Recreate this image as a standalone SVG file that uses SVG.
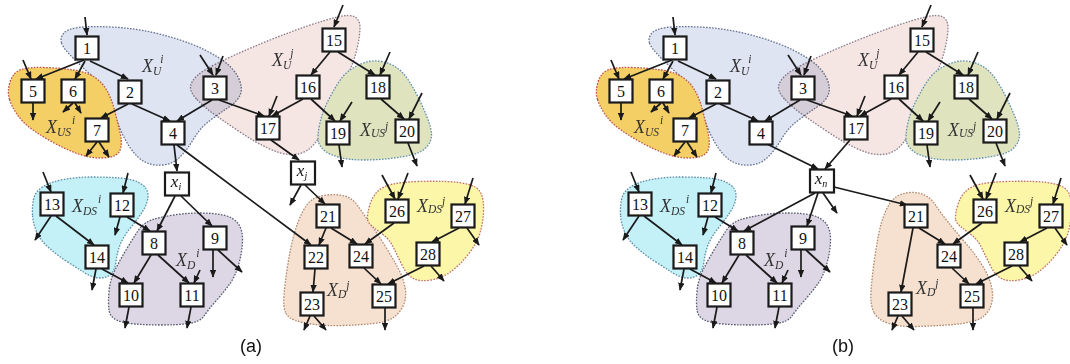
<svg xmlns="http://www.w3.org/2000/svg" xmlns:xlink="http://www.w3.org/1999/xlink" width="1070" height="364" viewBox="0 0 1070 364">
  <style>
    .blob { stroke-width: 1.3; stroke-dasharray: 1.6 1.4; }
    .bU { fill: #dee4f2; stroke: #66738f; }
    .bUj { fill: #f5e6e3; stroke: #8b7d8c; mix-blend-mode: multiply; }
    .bUSi { fill: #f3cf66; stroke: #c0504d; }
    .bUSj { fill: #dfe4bf; stroke: #5f8fae; }
    .bDSi { fill: #c4f0f7; stroke: #5b8fa8; }
    .bDi { fill: #ddd6e5; stroke: #555a6e; }
    .bDj { fill: #f6e0d0; stroke: #b08a70; }
    .bDSj { fill: #fbf6a8; stroke: #c0706a; }
    .e { fill: none; stroke: #1a1a1a; stroke-width: 1.7; marker-end: url(#ah); }
    .n rect { fill: #fff; stroke: #1a1a1a; stroke-width: 2.2; }
    .n text { font-family: "Liberation Serif", serif; font-size: 16px; text-anchor: middle; fill: #111; }
    .n text.v { font-style: italic; font-size: 17px; }
    .n tspan.s { font-size: 10px; }
    .lab { font-family: "Liberation Serif", serif; font-style: italic; font-size: 18px; fill: #333; }
    .lab tspan { font-size: 11.5px; }
    .cap { font-family: "Liberation Sans", sans-serif; font-size: 18px; fill: #111; text-anchor: middle; }
  </style>
  <defs>
    <marker id="ah" viewBox="0 0 10 8" refX="9" refY="4" markerWidth="8" markerHeight="6.5" markerUnits="userSpaceOnUse" orient="auto">
      <path d="M0,0 L10,4 L0,8 z" fill="#1a1a1a"/>
    </marker>
    <!-- cluster outlines shared by both panels -->
    <path id="p-Ui" d="M61.5,43 Q60,38 63.5,33.5 Q67,29 78.5,27.5 Q90,26 111.5,27 Q133,28 153,32.5 Q173,37 190,43.5 Q207,50 220,58.5 Q233,67 238,77 Q243,87 240.5,94 Q238,101 229,107 Q220,113 210,120.5 Q200,128 193.5,139 Q187,150 180,157 Q173,164 163,165 Q153,166 145,162 Q137,158 130,147.5 Q123,137 118,123.5 Q113,110 106.5,96.5 Q100,83 91.5,75.5 Q83,68 73,58 Q63,48 61.5,43 Z"/>
    <path id="p-Uj" d="M196.5,99 Q188,90 191.5,83 Q195,76 205,70 Q215,64 232.5,56 Q250,48 270,40 Q290,32 307.5,26 Q325,20 337.5,17 Q350,14 355,17 Q360,20 360,27.5 Q360,35 357.5,46.5 Q355,58 350,70 Q345,82 340,93.5 Q335,105 330,116 Q325,127 319.5,136.5 Q314,146 307,150.5 Q300,155 290,154.5 Q280,154 267.5,148 Q255,142 241.5,133 Q228,124 216.5,116 Q205,108 196.5,99 Z"/>
    <path id="p-USi" d="M9.5,99.5 Q7,92 10,82 Q13,72 21.5,69.5 Q30,67 45,67.5 Q60,68 73.5,70 Q87,72 95,77.5 Q103,83 107.5,91.5 Q112,100 114.5,110 Q117,120 119.5,130 Q122,140 121,146.5 Q120,153 115,155.5 Q110,158 100,158 Q90,158 78.5,154 Q67,150 55,143.5 Q43,137 33,130 Q23,123 17.5,115 Q12,107 9.5,99.5 Z"/>
    <path id="p-USj" d="M318.5,142 Q317,137 319.5,125 Q322,113 327,103 Q332,93 337.5,84 Q343,75 350,70 Q357,65 365,62.5 Q373,60 381.5,61.5 Q390,63 396.5,67.5 Q403,72 408,79.5 Q413,87 418,97 Q423,107 427,117 Q431,127 431.5,133.5 Q432,140 427.5,146 Q423,152 413,154.5 Q403,157 390,158.5 Q377,160 363.5,160 Q350,160 340,157.5 Q330,155 325,151 Q320,147 318.5,142 Z"/>
    <path id="p-DSi" d="M32.5,215 Q32,207 33.5,199.5 Q35,192 42.5,187 Q50,182 63.5,179.5 Q77,177 92,177 Q107,177 120,178 Q133,179 140.5,183.5 Q148,188 148,195.5 Q148,203 142.5,211.5 Q137,220 130,228.5 Q123,237 120,245 Q117,253 116,261.5 Q115,270 111,274 Q107,278 100,278 Q93,278 85,273 Q77,268 67,261.5 Q57,255 48.5,247.5 Q40,240 36.5,231.5 Q33,223 32.5,215 Z"/>
    <path id="p-Di" d="M109,310 Q108,303 109,291.5 Q110,280 115,270 Q120,260 126,250 Q132,240 137.5,231.5 Q143,223 151.5,220 Q160,217 173.5,215 Q187,213 200,213 Q213,213 223,215 Q233,217 238,223.5 Q243,230 242.5,241.5 Q242,253 238.5,265 Q235,277 229,285 Q223,293 215.5,301.5 Q208,310 204,316 Q200,322 188.5,323.5 Q177,325 162,325 Q147,325 135,324 Q123,323 116.5,320 Q110,317 109,310 Z"/>
    <path id="p-DSj" d="M367.5,219 Q367,215 369.5,206 Q372,197 377.5,191.5 Q383,186 393,184 Q403,182 418,181.5 Q433,181 446.5,181.5 Q460,182 469,184.5 Q478,187 481,193.5 Q484,200 483.5,211.5 Q483,223 480,233 Q477,243 468.5,254 Q460,265 451,271.5 Q442,278 431,280 Q420,282 413.5,278.5 Q407,275 402.5,266 Q398,257 394,248.5 Q390,240 383.5,235 Q377,230 372.5,226.5 Q368,223 367.5,219 Z"/>
  </defs>

  <rect width="1070" height="364" fill="#fff"/>

  <!-- ===================== panel (a) ===================== -->
  <g id="panel-a">
    <g id="a-clusters">
      <use xlink:href="#p-Ui" class="blob bU"/>
      <use xlink:href="#p-Uj" class="blob bUj"/>
      <use xlink:href="#p-USi" class="blob bUSi"/>
      <use xlink:href="#p-USj" class="blob bUSj"/>
      <use xlink:href="#p-DSi" class="blob bDSi"/>
      <use xlink:href="#p-Di" class="blob bDi"/>
      <path class="blob bDj" d="M285.5,312.5 Q283,307 284,295 Q285,283 287.5,266.5 Q290,250 293.5,236.5 Q297,223 302,213 Q307,203 312.5,199.5 Q318,196 327.5,195 Q337,194 344.5,196 Q352,198 357.5,205.5 Q363,213 370,223 Q377,233 384.5,245 Q392,257 397.5,267 Q403,277 405,287 Q407,297 403.5,305 Q400,313 393.5,317.5 Q387,322 373.5,323.5 Q360,325 343.5,325.5 Q327,326 315,324.5 Q303,323 295.5,320.5 Q288,318 285.5,312.5 Z"/>
      <use xlink:href="#p-DSj" class="blob bDSj"/>
    </g>

    <g id="a-connectors">
      <path class="e" d="M85,17 L87,35"/>
      <path class="e" d="M84,60 L36,79"/>
      <path class="e" d="M85,61 L75,79"/>
      <path class="e" d="M90,61 L128,79"/>
      <path class="e" d="M23,60 L31,79"/>
      <path class="e" d="M33,103 L33,120"/>
      <path class="e" d="M73,103 L63,112"/>
      <path class="e" d="M75,103 L81,113"/>
      <path class="e" d="M128,104 L101,118"/>
      <path class="e" d="M132,104 L170,121"/>
      <path class="e" d="M200,55 L213,75"/>
      <path class="e" d="M223,56 L216,75"/>
      <path class="e" d="M212,100 L177,121"/>
      <path class="e" d="M219,100 L264,116"/>
      <path class="e" d="M97,142 L86,156"/>
      <path class="e" d="M99,142 L109,157"/>
      <path class="e" d="M174,145 L177,171"/>
      <path class="e" d="M177,145 L311,245"/>
      <path class="e" d="M343,5 L334,27"/>
      <path class="e" d="M330,52 L311,75"/>
      <path class="e" d="M338,52 L375,75"/>
      <path class="e" d="M303,99 L272,116"/>
      <path class="e" d="M311,99 L335,121"/>
      <path class="e" d="M277,96 L269,116"/>
      <path class="e" d="M352,102 L340,121"/>
      <path class="e" d="M390,52 L380,75"/>
      <path class="e" d="M381,99 L404,119"/>
      <path class="e" d="M422,93 L409,119"/>
      <path class="e" d="M339,145 L342,167"/>
      <path class="e" d="M408,143 L417,166"/>
      <path class="e" d="M271,140 L299,160"/>
      <path class="e" d="M305,185 L325,204"/>
      <path class="e" d="M301,185 L290,205"/>
      <path class="e" d="M326,228 L319,245"/>
      <path class="e" d="M331,228 L357,244"/>
      <path class="e" d="M394,223 L365,244"/>
      <path class="e" d="M382,175 L395,199"/>
      <path class="e" d="M408,173 L398,199"/>
      <path class="e" d="M473,178 L465,204"/>
      <path class="e" d="M459,228 L432,242"/>
      <path class="e" d="M467,228 L479,245"/>
      <path class="e" d="M424,266 L388,284"/>
      <path class="e" d="M431,266 L444,281"/>
      <path class="e" d="M364,268 L381,284"/>
      <path class="e" d="M315,269 L313,292"/>
      <path class="e" d="M310,316 L304,330"/>
      <path class="e" d="M314,316 L326,330"/>
      <path class="e" d="M385,308 L385,330"/>
      <path class="e" d="M175,196 L157,231"/>
      <path class="e" d="M181,196 L212,226"/>
      <path class="e" d="M43,172 L51,192"/>
      <path class="e" d="M51,216 L35,240"/>
      <path class="e" d="M56,216 L94,245"/>
      <path class="e" d="M128,173 L123,193"/>
      <path class="e" d="M120,217 L115,235"/>
      <path class="e" d="M127,217 L150,231"/>
      <path class="e" d="M96,269 L92,290"/>
      <path class="e" d="M102,269 L128,283"/>
      <path class="e" d="M151,255 L134,283"/>
      <path class="e" d="M158,255 L189,283"/>
      <path class="e" d="M200,270 L194,283"/>
      <path class="e" d="M213,250 L213,277"/>
      <path class="e" d="M218,250 L242,272"/>
      <path class="e" d="M129,307 L125,328"/>
      <path class="e" d="M191,307 L187,328"/>
    </g>

    <g id="a-n1" class="n" transform="translate(87,48)"><rect x="-11.5" y="-11.5" width="23" height="23"/><text y="5.5">1</text></g>
    <g id="a-n2" class="n" transform="translate(130,92)"><rect x="-11.5" y="-11.5" width="23" height="23"/><text y="5.5">2</text></g>
    <g id="a-n3" class="n" transform="translate(215,88)"><rect x="-11.5" y="-11.5" width="23" height="23"/><text y="5.5">3</text></g>
    <g id="a-n4" class="n" transform="translate(173,133)"><rect x="-11.5" y="-11.5" width="23" height="23"/><text y="5.5">4</text></g>
    <g id="a-n5" class="n" transform="translate(33,91)"><rect x="-11.5" y="-11.5" width="23" height="23"/><text y="5.5">5</text></g>
    <g id="a-n6" class="n" transform="translate(73,91)"><rect x="-11.5" y="-11.5" width="23" height="23"/><text y="5.5">6</text></g>
    <g id="a-n7" class="n" transform="translate(97,130)"><rect x="-11.5" y="-11.5" width="23" height="23"/><text y="5.5">7</text></g>
    <g id="a-n8" class="n" transform="translate(154,243)"><rect x="-11.5" y="-11.5" width="23" height="23"/><text y="5.5">8</text></g>
    <g id="a-n9" class="n" transform="translate(215,238)"><rect x="-11.5" y="-11.5" width="23" height="23"/><text y="5.5">9</text></g>
    <g id="a-n10" class="n" transform="translate(131,295)"><rect x="-11.5" y="-11.5" width="23" height="23"/><text y="5.5">10</text></g>
    <g id="a-n11" class="n" transform="translate(192,295)"><rect x="-11.5" y="-11.5" width="23" height="23"/><text y="5.5">11</text></g>
    <g id="a-n12" class="n" transform="translate(122,205)"><rect x="-11.5" y="-11.5" width="23" height="23"/><text y="5.5">12</text></g>
    <g id="a-n13" class="n" transform="translate(52,204)"><rect x="-11.5" y="-11.5" width="23" height="23"/><text y="5.5">13</text></g>
    <g id="a-n14" class="n" transform="translate(97,257)"><rect x="-11.5" y="-11.5" width="23" height="23"/><text y="5.5">14</text></g>
    <g id="a-n15" class="n" transform="translate(334,40)"><rect x="-11.5" y="-11.5" width="23" height="23"/><text y="5.5">15</text></g>
    <g id="a-n16" class="n" transform="translate(308,87)"><rect x="-11.5" y="-11.5" width="23" height="23"/><text y="5.5">16</text></g>
    <g id="a-n17" class="n" transform="translate(268,128)"><rect x="-11.5" y="-11.5" width="23" height="23"/><text y="5.5">17</text></g>
    <g id="a-n18" class="n" transform="translate(378,87)"><rect x="-11.5" y="-11.5" width="23" height="23"/><text y="5.5">18</text></g>
    <g id="a-n19" class="n" transform="translate(338,133)"><rect x="-11.5" y="-11.5" width="23" height="23"/><text y="5.5">19</text></g>
    <g id="a-n20" class="n" transform="translate(407,131)"><rect x="-11.5" y="-11.5" width="23" height="23"/><text y="5.5">20</text></g>
    <g id="a-n21" class="n" transform="translate(328,216)"><rect x="-11.5" y="-11.5" width="23" height="23"/><text y="5.5">21</text></g>
    <g id="a-n22" class="n" transform="translate(316,257)"><rect x="-11.5" y="-11.5" width="23" height="23"/><text y="5.5">22</text></g>
    <g id="a-n23" class="n" transform="translate(312,304)"><rect x="-11.5" y="-11.5" width="23" height="23"/><text y="5.5">23</text></g>
    <g id="a-n24" class="n" transform="translate(361,256)"><rect x="-11.5" y="-11.5" width="23" height="23"/><text y="5.5">24</text></g>
    <g id="a-n25" class="n" transform="translate(384,296)"><rect x="-11.5" y="-11.5" width="23" height="23"/><text y="5.5">25</text></g>
    <g id="a-n26" class="n" transform="translate(397,211)"><rect x="-11.5" y="-11.5" width="23" height="23"/><text y="5.5">26</text></g>
    <g id="a-n27" class="n" transform="translate(463,216)"><rect x="-11.5" y="-11.5" width="23" height="23"/><text y="5.5">27</text></g>
    <g id="a-n28" class="n" transform="translate(428,254)"><rect x="-11.5" y="-11.5" width="23" height="23"/><text y="5.5">28</text></g>
    <g id="a-xi" class="n" transform="translate(177,184)"><rect x="-12" y="-11.5" width="24" height="23"/><text class="v" x="-1" y="3">x<tspan class="s" dy="3">i</tspan></text></g>
    <g id="a-xj" class="n" transform="translate(303,173)"><rect x="-12" y="-11.5" width="24" height="23"/><text class="v" x="-1" y="3">x<tspan class="s" dy="3">j</tspan></text></g>

    <g id="a-labels">
      <text class="lab" x="142" y="72">X<tspan dy="3">U</tspan><tspan dx="-1" dy="-12">i</tspan></text>
      <text class="lab" x="272" y="66">X<tspan dy="3">U</tspan><tspan dx="-1" dy="-12">j</tspan></text>
      <text class="lab" x="46" y="133">X<tspan dy="3">US</tspan><tspan dx="1" dy="-12">i</tspan></text>
      <text class="lab" x="360" y="136">X<tspan dy="1">US</tspan><tspan dx="0" dy="-7">j</tspan></text>
      <text class="lab" x="72" y="212">X<tspan dy="3">DS</tspan><tspan dx="1" dy="-12">i</tspan></text>
      <text class="lab" x="176" y="266">X<tspan dy="3">D</tspan><tspan dx="1" dy="-12">i</tspan></text>
      <text class="lab" x="327" y="296">X<tspan dy="2">D</tspan><tspan dx="0" dy="-9">j</tspan></text>
      <text class="lab" x="417" y="212">X<tspan dy="1">DS</tspan><tspan dx="0" dy="-8">j</tspan></text>
    </g>
    <text class="cap" x="251" y="352">(a)</text>
  </g>

  <!-- ===================== panel (b) ===================== -->
  <g id="panel-b" transform="translate(588,0)">
    <g id="b-clusters">
      <use xlink:href="#p-Ui" class="blob bU"/>
      <use xlink:href="#p-Uj" class="blob bUj"/>
      <use xlink:href="#p-USi" class="blob bUSi"/>
      <use xlink:href="#p-USj" class="blob bUSj"/>
      <use xlink:href="#p-DSi" class="blob bDSi"/>
      <use xlink:href="#p-Di" class="blob bDi"/>
      <path class="blob bDj" d="M286,312.5 Q282,305 283,291 Q284,277 286,262.5 Q288,248 290.5,235 Q293,222 297.5,211.5 Q302,201 308,197 Q314,193 322,192.5 Q330,192 336.5,195 Q343,198 347.5,205 Q352,212 360,222 Q368,232 378,243.5 Q388,255 395,266.5 Q402,278 404,289 Q406,300 401.5,309 Q397,318 386,321 Q375,324 360,325 Q345,326 328.5,326.5 Q312,327 301,323.5 Q290,320 286,312.5 Z"/>
      <use xlink:href="#p-DSj" class="blob bDSj"/>
    </g>

    <g id="b-connectors">
      <path class="e" d="M85,17 L87,35"/>
      <path class="e" d="M84,60 L36,79"/>
      <path class="e" d="M85,61 L75,79"/>
      <path class="e" d="M90,61 L128,79"/>
      <path class="e" d="M23,60 L31,79"/>
      <path class="e" d="M33,103 L33,120"/>
      <path class="e" d="M73,103 L63,112"/>
      <path class="e" d="M75,103 L81,113"/>
      <path class="e" d="M128,104 L101,118"/>
      <path class="e" d="M132,104 L170,121"/>
      <path class="e" d="M200,55 L213,75"/>
      <path class="e" d="M223,56 L216,75"/>
      <path class="e" d="M212,100 L177,121"/>
      <path class="e" d="M219,100 L264,116"/>
      <path class="e" d="M97,142 L86,156"/>
      <path class="e" d="M99,142 L109,157"/>
      <path class="e" d="M179,144 L230,169"/>
      <path class="e" d="M343,5 L334,27"/>
      <path class="e" d="M330,52 L311,75"/>
      <path class="e" d="M338,52 L375,75"/>
      <path class="e" d="M303,99 L272,116"/>
      <path class="e" d="M311,99 L335,121"/>
      <path class="e" d="M277,96 L269,116"/>
      <path class="e" d="M352,102 L340,121"/>
      <path class="e" d="M390,52 L380,75"/>
      <path class="e" d="M381,99 L404,119"/>
      <path class="e" d="M422,93 L409,119"/>
      <path class="e" d="M339,145 L342,167"/>
      <path class="e" d="M408,143 L417,166"/>
      <path class="e" d="M262,140 L237,169"/>
      <path class="e" d="M227,193 L156,231"/>
      <path class="e" d="M230,193 L219,226"/>
      <path class="e" d="M235,193 L249,213"/>
      <path class="e" d="M246,187 L319,205"/>
      <path class="e" d="M325,228 L313,292"/>
      <path class="e" d="M331,228 L357,244"/>
      <path class="e" d="M394,223 L365,244"/>
      <path class="e" d="M382,175 L395,199"/>
      <path class="e" d="M408,173 L398,199"/>
      <path class="e" d="M473,178 L465,204"/>
      <path class="e" d="M459,228 L432,242"/>
      <path class="e" d="M467,228 L479,245"/>
      <path class="e" d="M424,266 L388,284"/>
      <path class="e" d="M431,266 L444,281"/>
      <path class="e" d="M364,268 L381,284"/>
      <path class="e" d="M310,316 L304,330"/>
      <path class="e" d="M314,316 L326,330"/>
      <path class="e" d="M385,308 L385,330"/>
      <path class="e" d="M43,172 L51,192"/>
      <path class="e" d="M51,216 L35,240"/>
      <path class="e" d="M56,216 L94,245"/>
      <path class="e" d="M128,173 L123,193"/>
      <path class="e" d="M120,217 L115,235"/>
      <path class="e" d="M127,217 L150,231"/>
      <path class="e" d="M96,269 L92,290"/>
      <path class="e" d="M102,269 L128,283"/>
      <path class="e" d="M151,255 L134,283"/>
      <path class="e" d="M158,255 L189,283"/>
      <path class="e" d="M200,270 L194,283"/>
      <path class="e" d="M213,250 L213,277"/>
      <path class="e" d="M218,250 L242,272"/>
      <path class="e" d="M129,307 L125,328"/>
      <path class="e" d="M191,307 L187,328"/>
    </g>

    <g id="b-n1" class="n" transform="translate(87,48)"><rect x="-11.5" y="-11.5" width="23" height="23"/><text y="5.5">1</text></g>
    <g id="b-n2" class="n" transform="translate(130,92)"><rect x="-11.5" y="-11.5" width="23" height="23"/><text y="5.5">2</text></g>
    <g id="b-n3" class="n" transform="translate(215,88)"><rect x="-11.5" y="-11.5" width="23" height="23"/><text y="5.5">3</text></g>
    <g id="b-n4" class="n" transform="translate(173,133)"><rect x="-11.5" y="-11.5" width="23" height="23"/><text y="5.5">4</text></g>
    <g id="b-n5" class="n" transform="translate(33,91)"><rect x="-11.5" y="-11.5" width="23" height="23"/><text y="5.5">5</text></g>
    <g id="b-n6" class="n" transform="translate(73,91)"><rect x="-11.5" y="-11.5" width="23" height="23"/><text y="5.5">6</text></g>
    <g id="b-n7" class="n" transform="translate(97,130)"><rect x="-11.5" y="-11.5" width="23" height="23"/><text y="5.5">7</text></g>
    <g id="b-n8" class="n" transform="translate(154,243)"><rect x="-11.5" y="-11.5" width="23" height="23"/><text y="5.5">8</text></g>
    <g id="b-n9" class="n" transform="translate(215,238)"><rect x="-11.5" y="-11.5" width="23" height="23"/><text y="5.5">9</text></g>
    <g id="b-n10" class="n" transform="translate(131,295)"><rect x="-11.5" y="-11.5" width="23" height="23"/><text y="5.5">10</text></g>
    <g id="b-n11" class="n" transform="translate(192,295)"><rect x="-11.5" y="-11.5" width="23" height="23"/><text y="5.5">11</text></g>
    <g id="b-n12" class="n" transform="translate(122,205)"><rect x="-11.5" y="-11.5" width="23" height="23"/><text y="5.5">12</text></g>
    <g id="b-n13" class="n" transform="translate(52,204)"><rect x="-11.5" y="-11.5" width="23" height="23"/><text y="5.5">13</text></g>
    <g id="b-n14" class="n" transform="translate(97,257)"><rect x="-11.5" y="-11.5" width="23" height="23"/><text y="5.5">14</text></g>
    <g id="b-n15" class="n" transform="translate(334,40)"><rect x="-11.5" y="-11.5" width="23" height="23"/><text y="5.5">15</text></g>
    <g id="b-n16" class="n" transform="translate(308,87)"><rect x="-11.5" y="-11.5" width="23" height="23"/><text y="5.5">16</text></g>
    <g id="b-n17" class="n" transform="translate(268,128)"><rect x="-11.5" y="-11.5" width="23" height="23"/><text y="5.5">17</text></g>
    <g id="b-n18" class="n" transform="translate(378,87)"><rect x="-11.5" y="-11.5" width="23" height="23"/><text y="5.5">18</text></g>
    <g id="b-n19" class="n" transform="translate(338,133)"><rect x="-11.5" y="-11.5" width="23" height="23"/><text y="5.5">19</text></g>
    <g id="b-n20" class="n" transform="translate(407,131)"><rect x="-11.5" y="-11.5" width="23" height="23"/><text y="5.5">20</text></g>
    <g id="b-n21" class="n" transform="translate(328,216)"><rect x="-11.5" y="-11.5" width="23" height="23"/><text y="5.5">21</text></g>
    <g id="b-n23" class="n" transform="translate(312,304)"><rect x="-11.5" y="-11.5" width="23" height="23"/><text y="5.5">23</text></g>
    <g id="b-n24" class="n" transform="translate(361,256)"><rect x="-11.5" y="-11.5" width="23" height="23"/><text y="5.5">24</text></g>
    <g id="b-n25" class="n" transform="translate(384,296)"><rect x="-11.5" y="-11.5" width="23" height="23"/><text y="5.5">25</text></g>
    <g id="b-n26" class="n" transform="translate(397,211)"><rect x="-11.5" y="-11.5" width="23" height="23"/><text y="5.5">26</text></g>
    <g id="b-n27" class="n" transform="translate(463,216)"><rect x="-11.5" y="-11.5" width="23" height="23"/><text y="5.5">27</text></g>
    <g id="b-n28" class="n" transform="translate(428,254)"><rect x="-11.5" y="-11.5" width="23" height="23"/><text y="5.5">28</text></g>
    <g id="b-xn" class="n" transform="translate(234,181)"><rect x="-12" y="-11.5" width="24" height="23"/><text class="v" x="-1" y="3">x<tspan class="s" dy="3">n</tspan></text></g>

    <g id="b-labels">
      <text class="lab" x="142" y="72">X<tspan dy="3">U</tspan><tspan dx="-1" dy="-12">i</tspan></text>
      <text class="lab" x="270" y="66">X<tspan dy="3">U</tspan><tspan dx="-1" dy="-12">j</tspan></text>
      <text class="lab" x="46" y="133">X<tspan dy="3">US</tspan><tspan dx="1" dy="-12">i</tspan></text>
      <text class="lab" x="360" y="136">X<tspan dy="1">US</tspan><tspan dx="0" dy="-7">j</tspan></text>
      <text class="lab" x="72" y="212">X<tspan dy="3">DS</tspan><tspan dx="1" dy="-12">i</tspan></text>
      <text class="lab" x="176" y="266">X<tspan dy="3">D</tspan><tspan dx="1" dy="-12">i</tspan></text>
      <text class="lab" x="328" y="294">X<tspan dy="2">D</tspan><tspan dx="0" dy="-9">j</tspan></text>
      <text class="lab" x="417" y="212">X<tspan dy="1">DS</tspan><tspan dx="0" dy="-8">j</tspan></text>
    </g>
    <text class="cap" x="255" y="352">(b)</text>
  </g>
</svg>
